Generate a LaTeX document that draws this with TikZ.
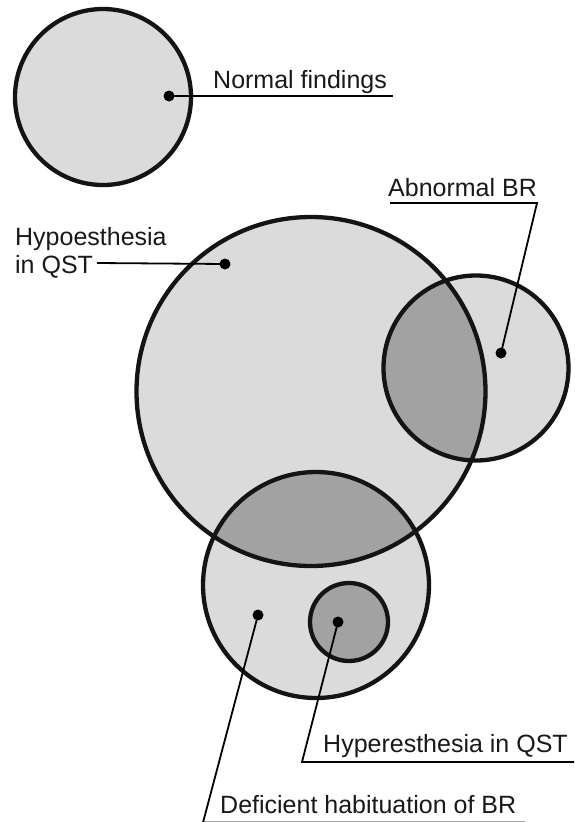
\documentclass[tikz,border=0pt]{standalone}
\usepackage{fontspec}
\setmainfont{Liberation Sans}
\definecolor{lightfill}{RGB}{219,219,219}
\definecolor{darkfill}{RGB}{162,162,162}
\begin{document}
\begin{tikzpicture}[x=1pt,y=-1pt,
  outline/.style={draw=black!92,line width=4.3pt},
  leader/.style={draw=black,line width=1.8pt},
  dot/.style={circle,fill=black,inner sep=0pt,minimum size=11pt},
  lbl/.style={inner sep=0pt,text=black!90,font=\fontsize{25}{28}\selectfont}]
\useasboundingbox (0,0) rectangle (574,822);
\fill[white] (0,0) rectangle (574,822);
% centres
\coordinate (cnorm) at (103,97);
\coordinate (cbig) at (311,391.5);
\coordinate (cabn) at (476,368);
\coordinate (cdef) at (316,585);
\coordinate (chyp) at (349,622);
% light fills
\fill[lightfill] (cnorm) circle[radius=88pt];
\fill[lightfill] (cbig) circle[radius=174.5pt];
\fill[lightfill] (cabn) circle[radius=92.5pt];
\fill[lightfill] (cdef) circle[radius=113pt];
% overlaps
\begin{scope}
  \clip (cbig) circle[radius=174.5pt];
  \fill[darkfill] (cabn) circle[radius=92.5pt];
  \fill[darkfill] (cdef) circle[radius=113pt];
\end{scope}
\fill[darkfill] (chyp) circle[radius=39pt];
% outlines
\draw[outline] (cnorm) circle[radius=88pt];
\draw[outline] (cbig) circle[radius=174.5pt];
\draw[outline] (cabn) circle[radius=92.5pt];
\draw[outline] (cdef) circle[radius=113pt];
\draw[outline] (chyp) circle[radius=39pt];
% labels
\node[lbl,anchor=base west] (tnorm) at (213,88) {Normal findings};
\node[lbl,anchor=base west] (tabn) at (388,196) {Abnormal BR};
\node[lbl,anchor=base west] (thypo1) at (15,245) {Hypoesthesia};
\node[lbl,anchor=base west] (thypo2) at (15,273) {in QST};
\node[lbl,anchor=base west] (thyper) at (323,752) {Hyperesthesia in QST};
\node[lbl,anchor=base west] (tdef) at (220,813) {Deficient habituation of BR};
% corner coordinates
\coordinate (nfend) at (393,96);
\coordinate (abnl) at (390,203);
\coordinate (abnr) at (537,203);
\coordinate (hypol) at (97,263);
\coordinate (hyperl) at (302,762);
\coordinate (hyperr) at (574,762);
\coordinate (defl) at (203,822.5);
\coordinate (defr) at (525,822.5);
% dots
\node[dot] (dnorm) at (169,96) {};
\node[dot] (dabn) at (501,353) {};
\node[dot] (dhypo) at (225,264) {};
\node[dot] (dhyper) at (338,622) {};
\node[dot] (ddef) at (258,615) {};
% leaders
\draw[leader] (dnorm.center) -- (nfend);
\draw[leader] (dabn.center) -- (abnr) -- (abnl);
\draw[leader] (dhypo.center) -- (hypol);
\draw[leader] (dhyper.center) -- (hyperl) -- (hyperr);
\draw[leader] (ddef.center) -- (defl) -- (defr);
\end{tikzpicture}
\end{document}
